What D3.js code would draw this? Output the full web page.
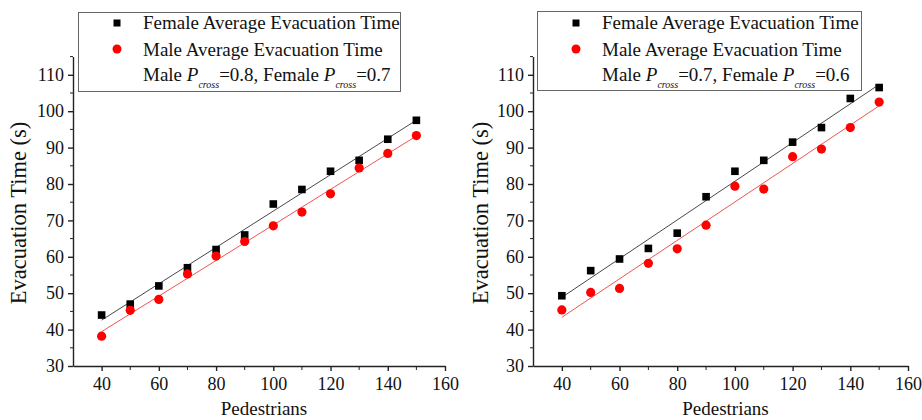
<!DOCTYPE html>
<html>
<head>
<meta charset="utf-8">
<script src="https://cdn.jsdelivr.net/npm/d3@7"></script>
<style>
  body { margin: 0; background: #fff; }
  svg text { font-family: "Liberation Serif", "DejaVu Serif", serif !important; fill: #111; }
</style>
</head>
<body>
<div id="chart"></div>
<script>
const pedestrians = [40, 50, 60, 70, 80, 90, 100, 110, 120, 130, 140, 150]

// left panel: Male Pcross=0.8, Female Pcross=0.7
const femaleLeft = [44, 47, 52, 57, 62, 66, 74.5, 78.5, 83.5, 86.5, 92.3, 97.5]
const maleLeft = [38.2, 45.3, 48.3, 55.3, 60.2, 64.2, 68.5, 72.3, 77.3, 84.4, 88.4, 93.3]

// right panel: Male Pcross=0.7, Female Pcross=0.6
const femaleRight = [49.3, 56.2, 59.4, 62.3, 66.5, 76.5, 83.5, 86.5, 91.5, 95.5, 103.5, 106.5]
const maleRight = [45.4, 50.2, 51.3, 58.2, 62.2, 68.7, 79.4, 78.6, 87.5, 89.6, 95.5, 102.5]

const panels = [
    {left: 73, right: 445, legend: [78, 12, 400, 91], male: "0.8", female: "0.7", f: femaleLeft, m: maleLeft, titleX: 26},
    {left: 533, right: 908, legend: [537, 11, 861, 90], male: "0.7", female: "0.6", f: femaleRight, m: maleRight, titleX: 488}
]

const W = 922, H = 420
const yBottom = 366, yTop = 56.6
const serif = "Liberation Serif, DejaVu Serif, serif"

const svg = d3.select("#chart").append("svg")
    .attr("width", W)
    .attr("height", H)
    .attr("font-family", serif)

const fit = (xs, ys) => {
    const mx = d3.mean(xs), my = d3.mean(ys)
    const b = d3.sum(xs, (x, i) => (x - mx) * (ys[i] - my)) / d3.sum(xs, x => (x - mx) * (x - mx))
    return x => my + b * (x - mx)
}

panels.forEach(p => {
    const x = d3.scaleLinear().domain([30, 160]).range([p.left, p.right])
    const y = d3.scaleLinear().domain([30, 115]).range([yBottom, yTop])
    const g = svg.append("g")

    // x axis
    const gx = g.append("g").attr("transform", "translate(0," + yBottom + ")")
    gx.call(d3.axisBottom(x).tickValues(d3.range(40, 161, 20)).tickSize(5).tickSizeOuter(0).tickPadding(6))
    gx.attr("font-family", serif).attr("font-size", 18)
    gx.selectAll(".minor").data(d3.range(50, 151, 20)).enter().append("line")
        .attr("x1", d => x(d)).attr("x2", d => x(d))
        .attr("y1", 0).attr("y2", 4).attr("stroke", "#222")

    // y axis
    const gy = g.append("g").attr("transform", "translate(" + p.left + ",0)")
    gy.call(d3.axisLeft(y).tickValues(d3.range(30, 111, 10)).tickSize(5).tickSizeOuter(0).tickPadding(4))
    gy.attr("font-family", serif).attr("font-size", 18)
    gy.selectAll(".minor").data(d3.range(35, 116, 10)).enter().append("line")
        .attr("y1", d => y(d)).attr("y2", d => y(d))
        .attr("x1", 0).attr("x2", -3).attr("stroke", "#222")
    g.selectAll(".domain, .tick line").attr("stroke", "#222").attr("stroke-width", 1.4)

    // titles
    g.append("text")
        .attr("x", (p.left + p.right) / 2 + 5).attr("y", 415)
        .attr("text-anchor", "middle").attr("font-size", 19)
        .text("Pedestrians")
    g.append("text")
        .attr("transform", "translate(" + p.titleX + "," + 213 + ") rotate(-90)")
        .attr("text-anchor", "middle").attr("font-size", 22.5)
        .text("Evacuation Time (s)")

    // fit lines
    const series = [
        {vals: p.f, line: "#333"},
        {vals: p.m, line: "#f04040"}
    ]
    series.forEach(s => {
        const f = fit(pedestrians, s.vals)
        g.append("line")
            .attr("x1", x(40)).attr("x2", x(150))
            .attr("y1", y(f(40))).attr("y2", y(f(150)))
            .attr("stroke", s.line).attr("stroke-width", 0.9)
    })

    // markers
    g.selectAll(".sq").data(p.f).enter().append("rect")
        .attr("x", (d, i) => x(pedestrians[i]) - 3.8)
        .attr("y", d => y(d) - 3.8)
        .attr("width", 7.6).attr("height", 7.6)
        .attr("fill", "#000")
    g.selectAll(".ci").data(p.m).enter().append("circle")
        .attr("cx", (d, i) => x(pedestrians[i]))
        .attr("cy", d => y(d))
        .attr("r", 4.6)
        .attr("fill", "#f00")

    // legend
    const [lx0, ly0, lx1, ly1] = p.legend
    const lg = svg.append("g")
    lg.append("rect")
        .attr("x", lx0 + 0.5).attr("y", ly0 + 0.5)
        .attr("width", lx1 - lx0).attr("height", ly1 - ly0)
        .attr("fill", "#fff").attr("stroke", "#666").attr("stroke-width", 1)
    const mx = lx0 + 39, tx = lx0 + 65
    lg.append("rect").attr("x", mx - 3.5).attr("y", 19.5).attr("width", 7).attr("height", 7).attr("fill", "#000")
    lg.append("circle").attr("cx", mx).attr("cy", 49).attr("r", 4.5).attr("fill", "#f00")
    lg.append("text").attr("x", tx).attr("y", 29).attr("font-size", 19).text("Female Average Evacuation Time")
    lg.append("text").attr("x", tx).attr("y", 56).attr("font-size", 19).text("Male Average Evacuation Time")
    const t3 = lg.append("text").attr("x", tx).attr("y", 81).attr("font-size", 19)
    t3.append("tspan").text("Male ")
    t3.append("tspan").attr("font-style", "italic").text("P")
    t3.append("tspan").attr("font-style", "italic").attr("font-size", 10).attr("dy", 7).text("cross")
    t3.append("tspan").attr("dy", -7).text("=" + p.male + ", Female ")
    t3.append("tspan").attr("font-style", "italic").text("P")
    t3.append("tspan").attr("font-style", "italic").attr("font-size", 10).attr("dy", 7).text("cross")
    t3.append("tspan").attr("dy", -7).text("=" + p.female)
})
</script>
</body>
</html>
